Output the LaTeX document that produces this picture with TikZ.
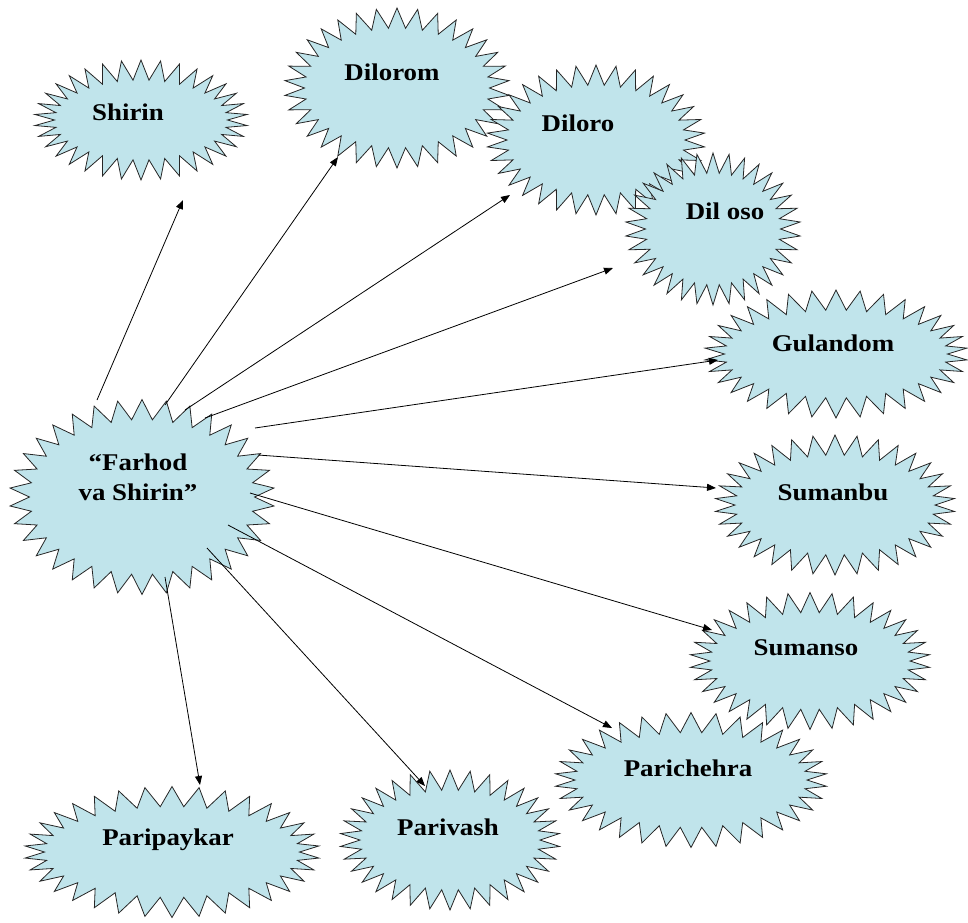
\documentclass[tikz,border=0pt]{standalone}
\usepackage{fontspec}
\setmainfont{Liberation Serif}[FakeStretch=1.12]
\usetikzlibrary{shapes.symbols,arrows.meta}
\definecolor{burstfill}{RGB}{192,228,235}
\tikzset{
  burst/.style={starburst, draw=black!85, line width=0.8pt, fill=burstfill,
    starburst points=34, starburst point height=20pt, random starburst=0,
    inner sep=0pt},
  burstlabel/.style={font=\bfseries\fontsize{24}{30}\selectfont, align=center, inner sep=0pt},
  link/.style={-{Triangle[length=9pt,width=7pt]}, line width=0.8pt, black}
}
\begin{document}
\begin{tikzpicture}[x=1pt,y=-1pt]
\useasboundingbox (0,0) rectangle (968,922);

% starburst shapes: centre, outer width and height
\node[burst, minimum width=213pt, minimum height=120pt] (shirin) at (141,120) {};
\node[burst, minimum width=225pt, minimum height=160pt] (dilorom) at (397,88) {};
\node[burst, minimum width=218pt, minimum height=150pt] (diloro) at (596,140) {};
\node[burst, minimum width=175pt, minimum height=152pt] (diloso) at (713,229) {};
\node[burst, minimum width=263pt, minimum height=128pt] (gulandom) at (836,354) {};
\node[burst, minimum width=240pt, minimum height=140pt] (sumanbu) at (835,505) {};
\node[burst, minimum width=240pt, minimum height=137pt] (sumanso) at (810,661) {};
\node[burst, minimum width=272pt, minimum height=135pt] (parichehra) at (691,780) {};
\node[burst, minimum width=220pt, minimum height=140pt] (parivash) at (450,840) {};
\node[burst, minimum width=295pt, minimum height=131pt] (paripaykar) at (172,852) {};
\node[burst, minimum width=265pt, minimum height=195pt] (farhod) at (142,497) {};

% labels
\node[burstlabel] (t-shirin) at (128,112) {Shirin};
\node[burstlabel] (t-dilorom) at (392,72) {Dilorom};
\node[burstlabel] (t-diloro) at (578,123) {Diloro};
\node[burstlabel] (t-diloso) at (725,211) {Dil oso};
\node[burstlabel] (t-gulandom) at (833,343) {Gulandom};
\node[burstlabel] (t-sumanbu) at (833,492) {Sumanbu};
\node[burstlabel] (t-sumanso) at (806,648) {Sumanso};
\node[burstlabel] (t-parichehra) at (688,768) {Parichehra};
\node[burstlabel] (t-parivash) at (448,827) {Parivash};
\node[burstlabel] (t-paripaykar) at (168,840) {Paripaykar};
\node[burstlabel] (t-farhod) at (138,477) {“Farhod\\va Shirin”};

% arrow ends
\coordinate (s1) at (97,400);   \coordinate (e1) at (183,200);
\coordinate (s2) at (165,405);  \coordinate (e2) at (338,157);
\coordinate (s3) at (185,410);  \coordinate (e3) at (510,195);
\coordinate (s4) at (205,418);  \coordinate (e4) at (613,268);
\coordinate (s5) at (255,428);  \coordinate (e5) at (718,360);
\coordinate (s6) at (258,455);  \coordinate (e6) at (716,488);
\coordinate (s7) at (250,493);  \coordinate (e7) at (712,630);
\coordinate (s8) at (228,525);  \coordinate (e8) at (612,728);
\coordinate (s9) at (207,548);  \coordinate (e9) at (425,786);
\coordinate (s10) at (165,577); \coordinate (e10) at (200,785);

\foreach \i in {1,...,10} \draw[link] (s\i) -- (e\i);
\end{tikzpicture}
\end{document}
